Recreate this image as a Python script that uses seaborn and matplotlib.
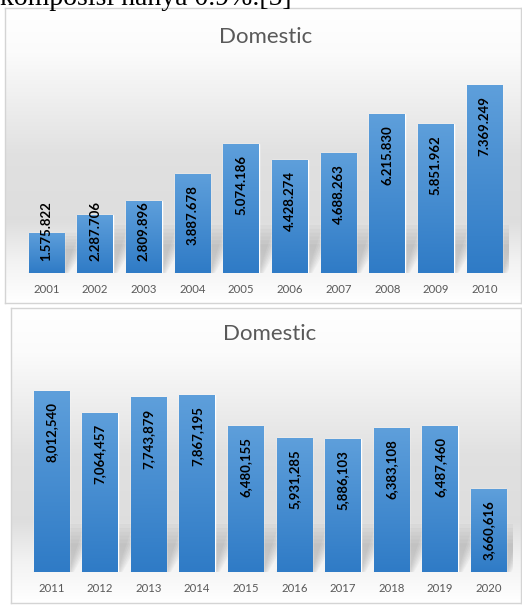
import numpy as np
import matplotlib
matplotlib.use("Agg")
import matplotlib.pyplot as plt
import seaborn as sns
import pandas as pd
from matplotlib.colors import LinearSegmentedColormap
from matplotlib.patches import Polygon

# ---------------- data ----------------
years_a = ["2001", "2002", "2003", "2004", "2005", "2006", "2007", "2008", "2009", "2010"]
values_a = [1575822, 2287706, 2809896, 3887678, 5074186, 4428274, 4688263, 6215830, 5851962, 7369249]
years_b = ["2011", "2012", "2013", "2014", "2015", "2016", "2017", "2018", "2019", "2020"]
values_b = [8012540, 7064457, 7743879, 7867195, 6480155, 5931285, 5886103, 6383108, 6487460, 3660616]
title_a = "Domestic"
title_b = "Domestic"
caption = "komposisi hanya 0.9%.[5]"

sns.set_theme(style="white")
plt.rcParams['font.family'] = ['Lato', 'DejaVu Sans']

W, H = 522, 605
fig = plt.figure(figsize=(W / 100, H / 100), dpi=100)
fig.patch.set_facecolor("white")


def px_rect(x0, y0, x1, y1):
    return [x0 / W, 1 - y1 / H, (x1 - x0) / W, (y1 - y0) / H]


def panel_bg(x0, y0, x1, y1):
    ax = fig.add_axes(px_rect(x0, y0, x1, y1), zorder=0)
    t = np.linspace(0, 1, 300)
    stops_t = [0.0, 0.15, 0.5, 0.72, 0.86, 1.0]
    stops_g = [1.0, 0.985, 0.88, 0.87, 0.95, 1.0]
    g = np.interp(t, stops_t, stops_g)
    img = np.dstack([np.repeat(g[:, None], 2, axis=1)] * 3)
    ax.imshow(img, aspect='auto', extent=[0, 1, 0, 1], origin='upper', interpolation='bilinear')
    ax.set_xlim(0, 1)
    ax.set_ylim(0, 1)
    ax.set_xticks([])
    ax.set_yticks([])
    for s in ax.spines.values():
        s.set_color("#d4d4d4")
        s.set_linewidth(1.0)
    return ax


bar_cmap = LinearSegmentedColormap.from_list("bar", ["#5e9fdb", "#2f7bc6"])


def bar_panel(rect, years, values, ymax, sep, low_thresh_px):
    ax = fig.add_axes(rect, zorder=2)
    ax.patch.set_alpha(0)
    df = pd.DataFrame({"year": years, "value": values})
    sns.barplot(data=df, x="year", y="value", ax=ax, color="#4a8fd0",
                saturation=1, width=0.73)
    ax.set_ylim(0, ymax)
    ax.set_xlim(-0.5, len(years) - 0.5)
    # px -> data conversion for vertical distances
    px_per_unit = ax.transData.transform((0, 1e6))[1] - ax.transData.transform((0, 0))[1]
    grad = np.linspace(0, 1, 200)[:, None]
    for p in ax.patches:
        x0, w, h = p.get_x(), p.get_width(), p.get_height()
        # soft perspective shadow, cast up-right behind the bar
        sh = min(h, 48 / px_per_unit * 1e6)
        for k in range(6):
            spread = 0.02 * k
            poly = Polygon([(x0 + 0.08 - spread, 0), (x0 + w + spread, 0),
                            (x0 + w + 0.32 + spread, sh * (1 - 0.08 * k)),
                            (x0 + 0.35 - spread, sh * (1 - 0.08 * k))],
                           closed=True, facecolor="#606060", edgecolor="none",
                           alpha=0.05, zorder=0.5)
            ax.add_patch(poly)
        im = ax.imshow(grad, cmap=bar_cmap, aspect='auto', origin='upper',
                       extent=[x0, x0 + w, 0, h], zorder=p.get_zorder() + 0.1)
        im.set_clip_path(p)
    ax.set_ylim(0, ymax)
    ax.set_xlim(-0.5, len(years) - 0.5)
    for i, v in enumerate(values):
        txt = f"{v:,}".replace(",", sep)
        bar_px = v / 1e6 * px_per_unit
        if bar_px > low_thresh_px:
            ax.annotate(txt, xy=(i, v), xytext=(0, -8), textcoords="offset points",
                        rotation=90, ha="center", va="top", fontsize=9.5,
                        fontweight="bold", color="black", zorder=5)
        else:
            ax.annotate(txt, xy=(i, 0), xytext=(0, 8.5), textcoords="offset points",
                        rotation=90, ha="center", va="bottom", fontsize=9.5,
                        fontweight="bold", color="black", zorder=5)
    ax.set_xlabel("")
    ax.set_ylabel("")
    ax.set_yticks([])
    ax.tick_params(axis="x", length=0, pad=8, labelsize=8.2, labelcolor="#595959")
    sns.despine(ax=ax, left=True, bottom=True)
    return ax


# panels
panel_bg(5, 8, 521, 303)
panel_bg(11, 308, 521, 603)

# top chart: baseline y=273 px, ymax 8M over 204 px
bar_panel(px_rect(22, 69, 509, 273), years_a, values_a, 8_000_000, ".", 83)
# bottom chart: baseline y=572 px, ymax 9M over 203 px
bar_panel(px_rect(27, 369, 513, 572), years_b, values_b, 9_000_000, ",", 83)

fig.text(266 / W, 1 - 37 / H, title_a, ha="center", va="center", fontsize=16, color="#595959")
fig.text(270 / W, 1 - 334 / H, title_b, ha="center", va="center", fontsize=16, color="#595959")
fig.text(0 / W, 1 - 5 / H, caption, ha="left", va="baseline", fontsize=20,
         family=["Liberation Serif", "DejaVu Serif"], color="black")

fig.savefig("out.png", dpi=100, facecolor="white")
